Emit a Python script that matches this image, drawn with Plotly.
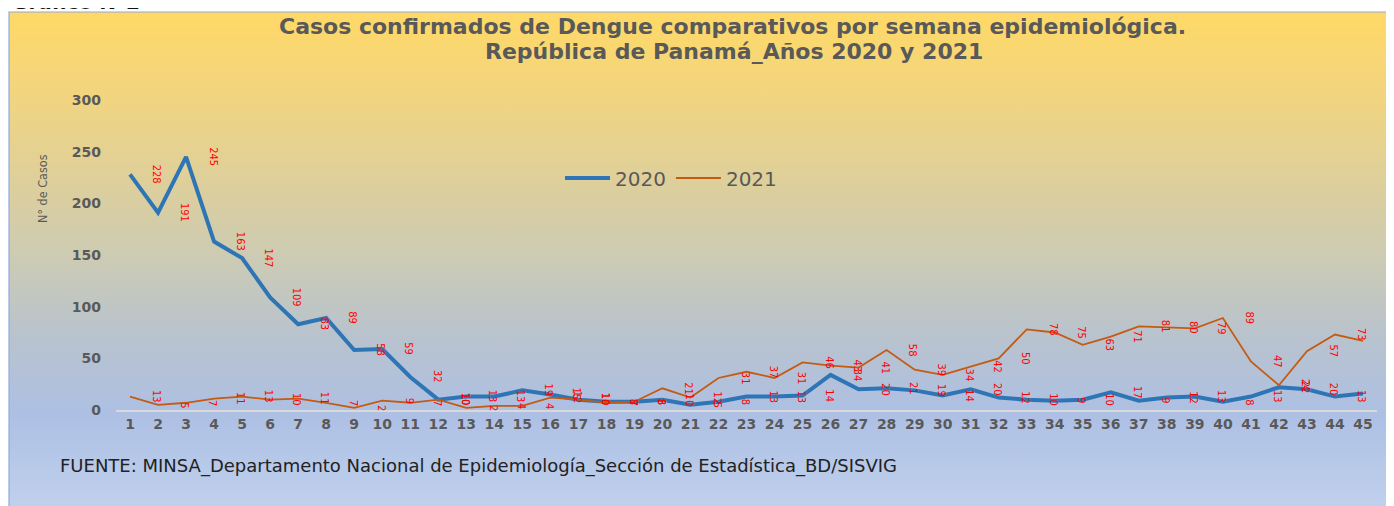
import base64
import plotly.graph_objects as go

# ---------------- data ----------------
weeks = list(range(1, 46))
cases_2020 = [228, 191, 245, 163, 147, 109, 83, 89, 58, 59, 32, 10, 13, 13, 19,
              15, 10, 8, 8, 10, 5, 8, 13, 13, 14, 34, 20, 21, 19, 14,
              20, 12, 10, 9, 10, 17, 9, 12, 13, 8, 13, 22, 20, 13, 16]
cases_2021 = [13, 5, 7, 11, 13, 10, 11, 7, 2, 9, 7, 10, 2, 4, 4,
              12, 10, 7, 8, 21, 12, 31, 37, 31, 46, 43, 41, 58, 39, 34,
              42, 50, 78, 75, 63, 71, 81, 80, 79, 89, 47, 24, 57, 73, 67]
series_names = ["2020", "2021"]
y_ticks = [0, 50, 100, 150, 200, 250, 300]

title_line1 = "Casos confirmados de Dengue comparativos por semana epidemiológica."
title_line2 = "República de Panamá_Años 2020 y 2021"
source_text = "FUENTE: MINSA_Departamento Nacional de Epidemiología_Sección de Estadística_BD/SISVIG"
y_title = "N° de Casos"
top_text = "Gráfico N°2"

# ---------------- layout geometry ----------------
OFF = 8                      # page body margin
W, H = 1394 - OFF, 506 - OFF
ML, MR, MT, MB = 108, 17, 92, 96
PW, PH = W - ML - MR, H - MT - MB


def px_x(page_px):
    return (page_px - OFF - ML) / PW


def px_y(page_py):
    return (H - MB - (page_py - OFF)) / PH


GRAY = "#595959"
BLUE = "#2E75B6"
ORANGE = "#C55A11"

# gradient background via svg image
svg = ('<svg xmlns="http://www.w3.org/2000/svg" width="100" height="100" viewBox="0 0 100 100" '
       'preserveAspectRatio="none"><defs><linearGradient id="g" x1="0" y1="0" x2="0" y2="1">'
       '<stop offset="0" stop-color="#FFD966"/>'
       '<stop offset="0.18" stop-color="#F0D482"/>'
       '<stop offset="0.48" stop-color="#CDCBB2"/>'
       '<stop offset="0.64" stop-color="#B9C3CD"/>'
       '<stop offset="0.80" stop-color="#ADC0E4"/>'
       '<stop offset="1" stop-color="#C2D2EE"/>'
       '</linearGradient></defs><rect x="0" y="0" width="100" height="100" fill="url(#g)"/></svg>')
svg_uri = "data:image/svg+xml;base64," + base64.b64encode(svg.encode()).decode()

fig = go.Figure()
fig.add_trace(go.Scatter(x=weeks, y=cases_2020, name=series_names[0], mode="lines",
                         line=dict(color=BLUE, width=4)))
fig.add_trace(go.Scatter(x=weeks, y=cases_2021, name=series_names[1], mode="lines",
                         line=dict(color=ORANGE, width=1.8)))

annotations = []
label_font = dict(family="Liberation Sans Narrow, DejaVu Sans Condensed, Arial Narrow, sans-serif",
                  size=11, color="#FF0000")
for series in (cases_2020, cases_2021):
    for wk, v in zip(weeks, series):
        annotations.append(dict(x=wk + 0.95, y=v, xref="x", yref="y", text=str(v),
                                textangle=90, showarrow=False, font=label_font,
                                xanchor="center", yanchor="middle"))

title_font = dict(family="DejaVu Sans, sans-serif", size=22, color=GRAY, weight="bold")
annotations.append(dict(x=px_x(732), y=px_y(27), xref="paper", yref="paper", text=title_line1,
                        showarrow=False, xanchor="center", yanchor="middle", font=title_font))
annotations.append(dict(x=px_x(734), y=px_y(51), xref="paper", yref="paper", text=title_line2,
                        showarrow=False, xanchor="center", yanchor="middle", font=title_font))
annotations.append(dict(x=px_x(58), y=px_y(466), xref="paper", yref="paper", text=source_text,
                        showarrow=False, xanchor="left", yanchor="middle",
                        font=dict(family="DejaVu Sans, sans-serif", size=18, color="#222222")))
annotations.append(dict(x=px_x(42), y=px_y(189), xref="paper", yref="paper", text=y_title,
                        showarrow=False, textangle=-90, xanchor="center", yanchor="middle",
                        font=dict(family="Liberation Sans Narrow, DejaVu Sans Condensed, sans-serif",
                                  size=12.5, color=GRAY)))
annotations.append(dict(x=px_x(10), y=px_y(16), xref="paper", yref="paper", text=top_text,
                        showarrow=False, xanchor="left", yanchor="bottom",
                        font=dict(family="DejaVu Sans, sans-serif", size=20, color="#111111",
                                  weight="bold")))

fig.update_layout(
    width=W, height=H,
    margin=dict(l=ML, r=MR, t=MT, b=MB),
    paper_bgcolor="white",
    plot_bgcolor="rgba(0,0,0,0)",
    showlegend=True,
    legend=dict(orientation="h", x=px_x(560), y=px_y(178), xanchor="left", yanchor="middle",
                bgcolor="rgba(0,0,0,0)", itemwidth=45,
                font=dict(family="DejaVu Sans, sans-serif", size=20, color=GRAY)),
    images=[dict(source=svg_uri, xref="paper", yref="paper", x=px_x(9), y=px_y(12),
                 sizex=(1394 + 10 - 9) / PW, sizey=(506 + 10 - 12) / PH, sizing="stretch",
                 xanchor="left", yanchor="top", layer="below")],
    shapes=[dict(type="rect", xref="paper", yref="paper", x0=px_x(9), x1=px_x(1394 + 20),
                 y0=px_y(506 + 20), y1=px_y(12), line=dict(color="#8FAADC", width=1.2),
                 fillcolor="rgba(0,0,0,0)", layer="above")],
    annotations=annotations,
    xaxis=dict(range=[0.5, 45.5], tickvals=weeks, ticktext=[str(w) for w in weeks],
               showgrid=False, zeroline=False, showline=True, linecolor="#D9D9D9", linewidth=1.5,
               ticks="", tickfont=dict(family="DejaVu Sans, sans-serif", size=14, color=GRAY,
                                       weight="bold")),
    yaxis=dict(range=[0, 300], tickvals=y_ticks, showgrid=False, zeroline=False, showline=False,
               ticks="", ticklabelstandoff=14,
               tickfont=dict(family="DejaVu Sans, sans-serif", size=14, color=GRAY,
                             weight="bold")),
)

fig.write_html("out.html")
